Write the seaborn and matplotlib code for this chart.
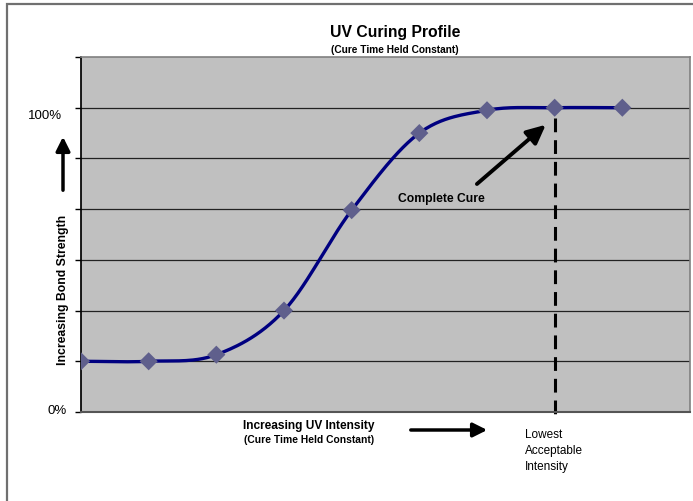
import numpy as np
import pandas as pd
import seaborn as sns
import matplotlib.pyplot as plt
from matplotlib.patches import Rectangle

# readings (relative units, 6 = 100%)
intensity = [0, 1, 2, 3, 4, 5, 6, 7, 8]
strength = [1.0, 1.0, 1.13, 2.0, 3.98, 5.5, 5.95, 6.0, 6.0]
lowest_ok = 7

sns.set_theme(style='white')
plt.rcParams['font.family'] = ['Liberation Sans', 'DejaVu Sans']

df = pd.DataFrame({'x': intensity, 'y': strength})

# excel-style smoothed line (catmull-rom between the points)
px = np.array(intensity, float)
py = np.array(strength, float)
ex = np.concatenate([[2 * px[0] - px[1]], px, [2 * px[-1] - px[-2]]])
ey = np.concatenate([[py[0]], py, [py[-1]]])
t = np.linspace(0, 1, 30)
cx, cy = [], []
for i in range(1, len(ex) - 2):
    for arr, out in ((ex, cx), (ey, cy)):
        p0, p1, p2, p3 = arr[i - 1], arr[i], arr[i + 1], arr[i + 2]
        b1 = p1 + (p2 - p0) / 6
        b2 = p2 - (p3 - p1) / 6
        out.extend((1 - t) ** 3 * p1 + 3 * (1 - t) ** 2 * t * b1 + 3 * (1 - t) * t ** 2 * b2 + t ** 3 * p2)

fig = plt.figure(figsize=(6.93, 5.01), dpi=100)
ax = fig.add_axes([81 / 693, 89 / 501, 609 / 693, 355 / 501])
ax.set_facecolor('#c0c0c0')

for yv in range(1, 7):
    ax.axhline(yv, color='#222222', lw=0.9, zorder=1)

ax.plot([lowest_ok, lowest_ok], [strength[lowest_ok] - 0.2, -0.06], color='black', lw=2.2,
        ls=(0, (4.5, 2.6)), clip_on=False, zorder=2)

sns.lineplot(x=cx, y=cy, sort=False, color='#000080', lw=2.4, ax=ax, zorder=3)
sns.scatterplot(data=df, x='x', y='y', marker='D', s=85, color='#5f5f8c',
                edgecolor='none', ax=ax, zorder=4)

ax.set_xlim(0, 9)
ax.set_ylim(0, 7)
ax.set_xticks([])
ax.set_yticks(range(0, 8))
ax.tick_params(axis='y', left=True, length=4, width=1, color='black', labelleft=False)
ax.set_xlabel('')
ax.set_ylabel('')
for side in ['top', 'right']:
    ax.spines[side].set_color('#808080')
    ax.spines[side].set_linewidth(1.2)
ax.spines['left'].set_color('black')
ax.spines['bottom'].set_color('#555555')
ax.spines['bottom'].set_linewidth(1.5)

fig.text(395 / 693, 1 - 32 / 501, 'UV Curing Profile', ha='center', va='center',
         fontsize=11.3, fontweight='bold', color='black')
fig.text(395 / 693, 1 - 50 / 501, '(Cure Time Held Constant)', ha='center', va='center',
         fontsize=7.3, fontweight='bold', color='black')

fig.text(45 / 693, 1 - 116 / 501, '100%', ha='center', va='center', fontsize=9.5, color='black')
fig.text(57 / 693, 1 - 411 / 501, '0%', ha='center', va='center', fontsize=9.5, color='black')
fig.text(63 / 693, 1 - 290 / 501, 'Increasing Bond Strength', rotation=90, ha='center',
         va='center', fontsize=8.8, fontweight='bold', color='black')

fig.text(309 / 693, 1 - 426 / 501, 'Increasing UV Intensity', ha='center', va='center',
         fontsize=8.6, fontweight='bold', color='black')
fig.text(309 / 693, 1 - 440 / 501, '(Cure Time Held Constant)', ha='center', va='center',
         fontsize=7.4, fontweight='bold', color='black')
fig.text(525 / 693, 1 - 451 / 501, 'Lowest\nAcceptable\nIntensity', ha='left', va='center',
         fontsize=8.5, color='black', linespacing=1.45)

ax.text(4.68, 4.2, 'Complete Cure', ha='left', va='center', fontsize=8.7,
        fontweight='bold', color='black')

arrow = dict(arrowstyle='-|>,head_length=0.7,head_width=0.35', color='black', lw=2.5)
big_arrow = dict(arrowstyle='-|>,head_length=0.95,head_width=0.45', color='black', lw=2.8)
ax.annotate('', xy=(6.9, 5.7), xytext=(5.82, 4.46), arrowprops=big_arrow)
fig.add_artist(plt.Annotation('', xy=(63 / 693, 1 - 134 / 501), xytext=(63 / 693, 1 - 193 / 501),
                              xycoords='figure fraction', arrowprops=arrow))
fig.add_artist(plt.Annotation('', xy=(490 / 693, 1 - 430 / 501), xytext=(408 / 693, 1 - 430 / 501),
                              xycoords='figure fraction', arrowprops=arrow))

# outer chart frame (only top and left edges visible in the crop)
fig.add_artist(Rectangle((7 / 693, -0.02), 1.02, 1 - 4 / 501 + 0.02, transform=fig.transFigure,
                         fill=False, edgecolor='#707070', lw=1.6))

fig.savefig('out.png', dpi=100)
